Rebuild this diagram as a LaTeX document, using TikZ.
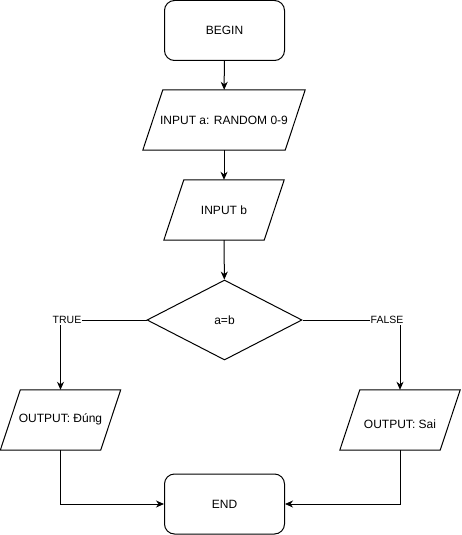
\documentclass[tikz,border=0pt]{standalone}
\usepackage{fontspec}
\setmainfont{Liberation Sans}
\usetikzlibrary{shapes.geometric,arrows.meta}
% outline of an input/output box: a parallelogram slanted by 20pt
\newcommand\ioframe[1]{%
  \draw[line] ([xshift=10pt]#1.north west) -- ([xshift=10pt]#1.north east)
    -- ([xshift=-10pt]#1.south east) -- ([xshift=-10pt]#1.south west) -- cycle;}
\begin{document}
\begin{tikzpicture}[x=1pt,y=-1pt,
  every node/.style={font=\fontsize{12}{14}\selectfont},
  line/.style={draw=black,line width=1pt},
  arr/.style={line,-{Stealth[length=8pt,width=7pt,inset=2.5pt]}},
  term/.style={line,rectangle,rounded corners=10pt,minimum width=120pt,minimum height=60pt,inner sep=0pt},
  io/.style={rectangle,minimum height=60pt,inner sep=0pt},
  cond/.style={line,diamond,minimum width=155pt,minimum height=80pt,inner sep=0pt,aspect=1.94},
  lbl/.style={fill=white,inner sep=1pt,font=\fontsize{10.5}{12}\selectfont}]
\useasboundingbox (0,0) rectangle (461,535);

\node[term] (begin) at (224.5,30.5) {BEGIN};
\node[io,minimum width=142pt] (ina) at (224,120) {INPUT a: RANDOM 0-9};
\node[io,minimum width=100pt] (inb) at (224,210) {INPUT b};
\node[cond] (dec) at (224.5,320) {a=b};
\node[io,minimum width=100pt] (outT) at (60.5,420) {\raisebox{-2pt}[0pt][0pt]{OUTPUT: Đúng}};
\node[io,minimum width=100pt] (outF) at (400,420) {\raisebox{-8pt}[0pt][0pt]{OUTPUT: Sai}};
\node[term] (end) at (224.5,504) {END};

\ioframe{ina}
\ioframe{inb}
\ioframe{outT}
\ioframe{outF}

\draw[arr] (begin) -- (ina);
\draw[arr] (ina) -- (inb);
\draw[arr] (inb) -- (dec);
\draw[arr] (dec.west) -| (outT.north);
\draw[arr] (dec.east) -| (outF.north);
\draw[arr] (outT.south) |- (end.west);
\draw[arr] (outF.south) |- (end.east);

\node[lbl] (tlab) at (67,320) {TRUE};
\node[lbl] (flab) at (387,320) {FALSE};
\end{tikzpicture}
\end{document}
